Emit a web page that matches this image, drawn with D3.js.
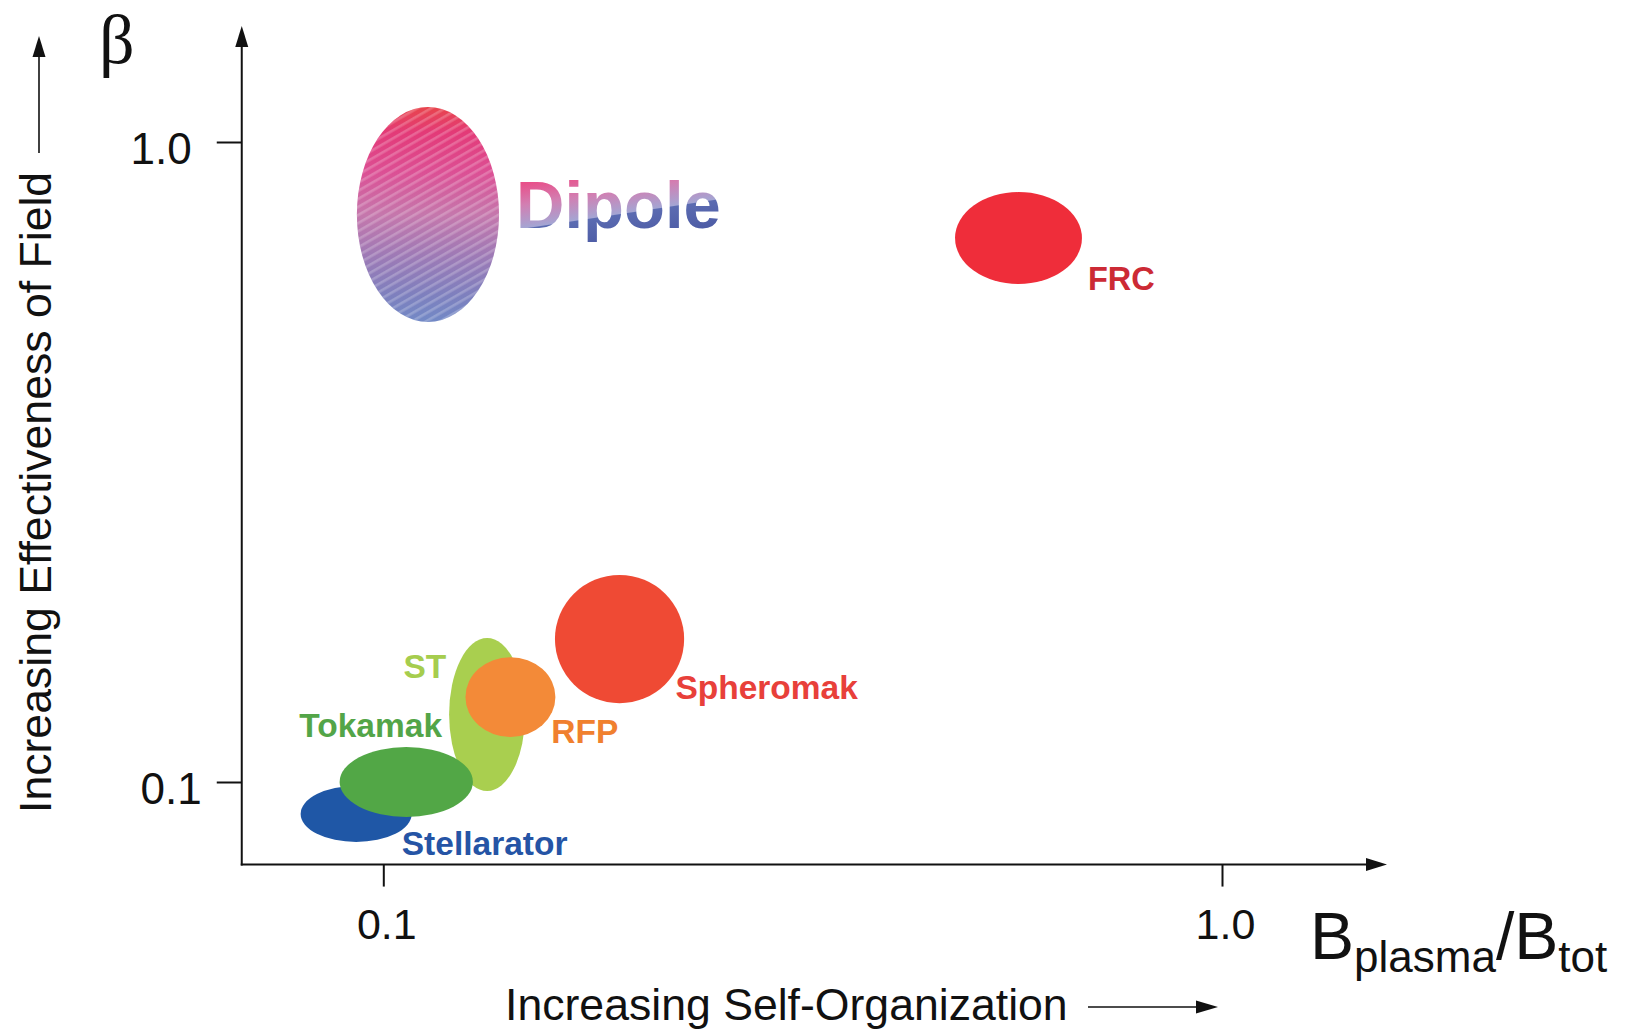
<!DOCTYPE html>
<html>
<head>
<meta charset="utf-8">
<script src="https://cdn.jsdelivr.net/npm/d3@7"></script>
<style>
  html, body { margin: 0; padding: 0; background: #fff; }
  svg { display: block; }
</style>
</head>
<body>
<svg id="chart" width="1627" height="1031"></svg>
<script>
// Confinement concepts and the region each one occupies
const concepts = ["Dipole", "FRC", "Spheromak", "ST", "RFP", "Tokamak", "Stellarator"];

// B_plasma / B_tot extent of each region
const ratioLow  = [0.0930, 0.4805, 0.1602, 0.1198, 0.1253, 0.0887, 0.0797];
const ratioHigh = [0.1374, 0.6808, 0.2284, 0.1476, 0.1604, 0.1279, 0.1081];

// beta extent of each region
const betaLow  = [0.5233, 0.600, 0.1328, 0.0968, 0.1176, 0.0882, 0.0806];
const betaHigh = [1.134, 0.835, 0.2106, 0.1679, 0.1567, 0.1134, 0.0986];

// where each name is written (start of the baseline)
const labelRatio = [0.1440, 0.692, 0.2230, 0.1057, 0.1586, 0.0794, 0.1052];
const labelBeta  = [0.7337, 0.587, 0.1348, 0.1454, 0.1150, 0.1176, 0.0769];

const regionColors = [null, "#ef2d3a", "#ef4a34", "#a9cf4f", "#f38a38", "#52a746", "#1f57a6"];
const labelColors  = [null, "#cc2a35", "#e8403a", "#a6cd4e", "#f0802f", "#53a548", "#2554a5"];

// painting order (later ones sit on top)
const drawOrder = ["ST", "RFP", "Stellarator", "Tokamak", "Spheromak", "FRC", "Dipole"];

const xTickValues = [0.1, 1.0];
const xTickLabels = ["0.1", "1.0"];
const yTickValues = [0.1, 1.0];
const yTickLabels = ["0.1", "1.0"];

// axis extents (data units)
const xAxisExtent = [0.0678, 1.573];
const yAxisExtent = [0.0743, 1.518];

const svg = d3.select("#chart");
const defs = svg.append("defs");

const x = d3.scaleLog().domain([0.1, 1]).range([383.3, 1222]);
const y = d3.scaleLog().domain([0.1, 1]).range([782, 142]);

const SANS = "'Liberation Sans', Arial, Helvetica, sans-serif";

// ---- gradients / patterns ----
const dipGrad = defs.append("linearGradient")
  .attr("id", "dipoleFill").attr("x1", 0).attr("y1", 0).attr("x2", 0).attr("y2", 1);
[[0, "#e8444c"], [0.12, "#e33a78"], [0.3, "#dc4f94"], [0.5, "#c577ac"],
 [0.7, "#9c7ab6"], [0.88, "#7d80be"], [1, "#7289c6"]]
  .forEach(([o, c]) => dipGrad.append("stop").attr("offset", o).attr("stop-color", c));

const hatch = defs.append("pattern")
  .attr("id", "dipoleHatch").attr("patternUnits", "userSpaceOnUse")
  .attr("width", 7).attr("height", 7)
  .attr("patternTransform", "rotate(-30)");
hatch.append("rect").attr("width", 7).attr("height", 2.6).attr("fill", "rgba(255,255,255,0.22)");

const txtGrad = defs.append("linearGradient")
  .attr("id", "dipoleText").attr("gradientUnits", "userSpaceOnUse")
  .attr("x1", 600).attr("y1", 172).attr("x2", 610.4).attr("y2", 241.2);
[[0, "#e8508a"], [0.3, "#d27fb2"], [0.63, "#a4a5d3"], [0.645, "#5b6bb1"], [1, "#4e5da6"]]
  .forEach(([o, c]) => txtGrad.append("stop").attr("offset", o).attr("stop-color", c));

// ---- regions ----
const regions = concepts.map((name, i) => {
  const x0 = x(ratioLow[i]), x1 = x(ratioHigh[i]);
  const y0 = y(betaHigh[i]), y1 = y(betaLow[i]);
  return { name, i, cx: (x0 + x1) / 2, cy: (y0 + y1) / 2, rx: (x1 - x0) / 2, ry: (y1 - y0) / 2 };
});
const ordered = drawOrder.map(n => regions.find(r => r.name === n));

const gRegions = svg.append("g");
ordered.forEach(r => {
  if (r.name === "Dipole") {
    gRegions.append("ellipse").attr("cx", r.cx).attr("cy", r.cy).attr("rx", r.rx).attr("ry", r.ry)
      .attr("fill", "url(#dipoleFill)");
    gRegions.append("ellipse").attr("cx", r.cx).attr("cy", r.cy).attr("rx", r.rx).attr("ry", r.ry)
      .attr("fill", "url(#dipoleHatch)");
  } else {
    gRegions.append("ellipse").attr("cx", r.cx).attr("cy", r.cy).attr("rx", r.rx).attr("ry", r.ry)
      .attr("fill", regionColors[r.i]);
  }
});

// ---- region names ----
const gLabels = svg.append("g").attr("font-family", SANS).attr("font-weight", "bold");
concepts.forEach((name, i) => {
  const t = gLabels.append("text")
    .attr("x", x(labelRatio[i])).attr("y", y(labelBeta[i]))
    .text(name);
  if (name === "Dipole") {
    t.attr("font-size", 67).attr("fill", "url(#dipoleText)");
  } else {
    t.attr("font-size", name === "FRC" ? 32.5 : 33.5).attr("fill", labelColors[i]);
  }
});

// ---- axes ----
const ax = svg.append("g").attr("stroke", "#111").attr("stroke-width", 2).attr("fill", "none");
const xa0 = x(xAxisExtent[0]), xa1 = x(xAxisExtent[1]);
const ya0 = y(yAxisExtent[0]), ya1 = y(yAxisExtent[1]);
const head = 21, half = 6.5;

ax.append("line").attr("x1", xa0 - 1).attr("y1", ya0).attr("x2", xa1 - head + 2).attr("y2", ya0);
ax.append("line").attr("x1", xa0).attr("y1", ya0 + 1).attr("x2", xa0).attr("y2", ya1 + head - 2);
svg.append("path").attr("fill", "#111")
  .attr("d", `M${xa1},${ya0} L${xa1 - head},${ya0 - half} L${xa1 - head},${ya0 + half} Z`);
svg.append("path").attr("fill", "#111")
  .attr("d", `M${xa0},${ya1} L${xa0 - half},${ya1 + head} L${xa0 + half},${ya1 + head} Z`);

// ticks
const gx = svg.append("g").attr("transform", `translate(0,${ya0})`)
  .call(d3.axisBottom(x).tickValues(xTickValues).tickSize(22).tickPadding(22)
    .tickFormat((d, i) => xTickLabels[i]));
gx.select(".domain").remove();
gx.selectAll(".tick line").attr("stroke", "#111").attr("stroke-width", 2);
gx.selectAll(".tick text").attr("font-family", SANS).attr("font-size", 43).attr("fill", "#111")
  .attr("dx", 3);

const gy = svg.append("g").attr("transform", `translate(${xa0},0)`)
  .call(d3.axisLeft(y).tickValues(yTickValues).tickSize(25).tickPadding(25)
    .tickFormat((d, i) => yTickLabels[i]));
gy.select(".domain").remove();
gy.selectAll(".tick line").attr("stroke", "#111").attr("stroke-width", 2);
gy.selectAll(".tick text").attr("font-family", SANS).attr("font-size", 44).attr("fill", "#111")
  .attr("dy", "0.48em")
  .attr("dx", d => (d < 0.5 ? 10 : 0));

// ---- axis titles ----
svg.append("text").attr("x", 99).attr("y", 63)
  .attr("font-family", "'Liberation Serif', 'Times New Roman', serif")
  .attr("font-size", 70).attr("fill", "#111").text("β");

const bt = svg.append("text").attr("x", 1310).attr("y", 959)
  .attr("font-family", SANS).attr("font-size", 66).attr("fill", "#111");
bt.append("tspan").text("B");
bt.append("tspan").attr("font-size", 44).attr("dy", 13).text("plasma");
bt.append("tspan").attr("dy", -13).text("/B");
bt.append("tspan").attr("font-size", 44).attr("dy", 13).text("tot");

svg.append("text").attr("x", 505).attr("y", 1020)
  .attr("font-family", SANS).attr("font-size", 44.6).attr("fill", "#111")
  .text("Increasing Self-Organization");
svg.append("line").attr("x1", 1088).attr("y1", 1007).attr("x2", 1200).attr("y2", 1007)
  .attr("stroke", "#111").attr("stroke-width", 1.6);
svg.append("path").attr("fill", "#111").attr("d", "M1218,1007 L1196,1000.5 L1196,1013.5 Z");

svg.append("text").attr("transform", "translate(51,813) rotate(-90)")
  .attr("font-family", SANS).attr("font-size", 44.6).attr("fill", "#111")
  .text("Increasing Effectiveness of Field");
svg.append("line").attr("x1", 39).attr("y1", 153).attr("x2", 39).attr("y2", 54)
  .attr("stroke", "#111").attr("stroke-width", 1.6);
svg.append("path").attr("fill", "#111").attr("d", "M39,36 L32.5,57 L45.5,57 Z");
</script>
</body>
</html>
